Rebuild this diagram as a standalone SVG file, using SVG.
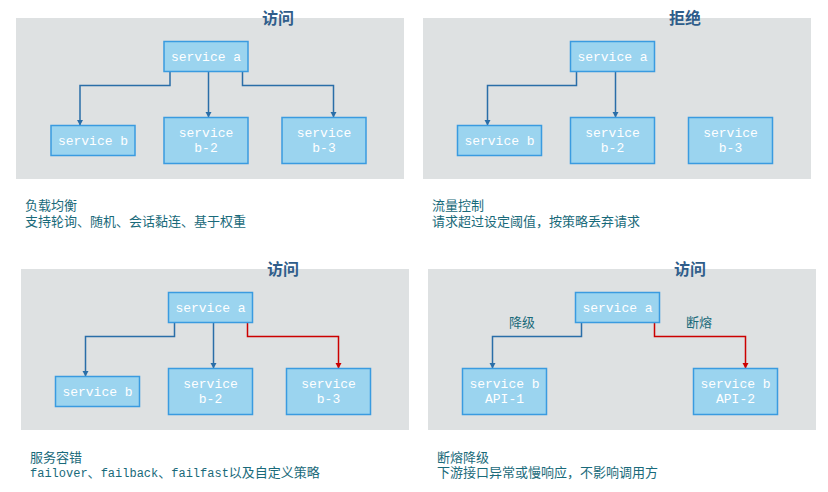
<svg xmlns="http://www.w3.org/2000/svg" width="828" height="492" viewBox="0 0 828 492">
<defs>
<style>
.panel{fill:#dee1e2}
.box{fill:#9bd4ef;stroke:#3a9be0;stroke-width:1.5}
.bt{font-family:"Liberation Mono","DejaVu Sans Mono",monospace;font-size:13px;fill:#ffffff;text-anchor:middle}
.title{font-family:"Noto Sans CJK SC",sans-serif;font-size:16px;font-weight:bold;fill:#2f5d8a;text-anchor:middle}
.desc{font-family:"Liberation Mono","Noto Sans CJK SC",monospace;font-size:13px;fill:#196a7a}
.lbl{font-family:"Noto Sans CJK SC",sans-serif;font-size:13px;fill:#196a7a;text-anchor:middle}
.cb{fill:none;stroke:#2a6ea8;stroke-width:1.5}
.cr{fill:none;stroke:#cc0000;stroke-width:1.5}
.hb{fill:#2a6ea8}
.hr{fill:#cc0000}
</style>
</defs>

<!-- panels -->
<rect class="panel" x="16" y="18" width="388" height="161"/>
<rect class="panel" x="423" y="18" width="388" height="161"/>
<rect class="panel" x="21" y="269" width="388" height="161"/>
<rect class="panel" x="428" y="269" width="388" height="161"/>

<text class="title" x="278" y="24">访问</text>
<text class="title" x="685" y="24">拒绝</text>
<text class="title" x="283" y="275">访问</text>
<text class="title" x="690" y="275">访问</text>

<!-- connectors -->
<g id="connectors">
<polyline class="cb" points="170,72 170,85.5 80,85.5 80,125"/>
<line class="cb" x1="208.5" y1="72" x2="208.5" y2="117"/>
<polyline class="cb" points="242.5,72 242.5,85.5 333.5,85.5 333.5,117"/>

<polyline class="cb" points="576.5,72 576.5,85.5 487.5,85.5 487.5,125"/>
<line class="cb" x1="615.5" y1="72" x2="615.5" y2="117"/>

<polyline class="cb" points="174.5,323 174.5,336.5 85.5,336.5 85.5,376"/>
<line class="cb" x1="213.5" y1="323" x2="213.5" y2="368"/>
<polyline class="cr" points="247.5,323 247.5,336.5 338.5,336.5 338.5,368"/>

<polyline class="cb" points="581.5,323 581.5,336.5 492.5,336.5 492.5,368"/>
<polyline class="cr" points="654.5,323 654.5,336.5 745.5,336.5 745.5,368"/>

<path class="hb" d="M77,120 L83,120 L80,125.5 Z"/>
<path class="hb" d="M205.5,112 L211.5,112 L208.5,117.5 Z"/>
<path class="hb" d="M330.5,112 L336.5,112 L333.5,117.5 Z"/>
<path class="hb" d="M484.5,120 L490.5,120 L487.5,125.5 Z"/>
<path class="hb" d="M612.5,112 L618.5,112 L615.5,117.5 Z"/>
<path class="hb" d="M82.5,371 L88.5,371 L85.5,376.5 Z"/>
<path class="hb" d="M210.5,363 L216.5,363 L213.5,368.5 Z"/>
<path class="hr" d="M335.5,363 L341.5,363 L338.5,368.5 Z"/>
<path class="hb" d="M489.5,363 L495.5,363 L492.5,368.5 Z"/>
<path class="hr" d="M742.5,363 L748.5,363 L745.5,368.5 Z"/>

<text class="lbl" x="522" y="327">降级</text>
<text class="lbl" x="699" y="327">断熔</text>
</g>

<!-- Q1 nodes -->
<g id="q1-a"><rect class="box" x="164" y="41.5" width="84" height="30"/><text class="bt" x="206" y="61">service a</text></g>
<g id="q1-b"><rect class="box" x="51" y="125.5" width="84" height="30"/><text class="bt" x="93" y="145">service b</text></g>
<g id="q1-b2"><rect class="box" x="164" y="117.5" width="84" height="46"/><text class="bt" x="206" y="137">service</text><text class="bt" x="206" y="152">b-2</text></g>
<g id="q1-b3"><rect class="box" x="282" y="117.5" width="84" height="46"/><text class="bt" x="324" y="137">service</text><text class="bt" x="324" y="152">b-3</text></g>

<!-- Q2 nodes -->
<g id="q2-a"><rect class="box" x="570.5" y="41.5" width="84" height="30"/><text class="bt" x="612.5" y="61">service a</text></g>
<g id="q2-b"><rect class="box" x="457.5" y="125.5" width="84" height="30"/><text class="bt" x="499.5" y="145">service b</text></g>
<g id="q2-b2"><rect class="box" x="570.5" y="117.5" width="84" height="46"/><text class="bt" x="612.5" y="137">service</text><text class="bt" x="612.5" y="152">b-2</text></g>
<g id="q2-b3"><rect class="box" x="688.5" y="117.5" width="84" height="46"/><text class="bt" x="730.5" y="137">service</text><text class="bt" x="730.5" y="152">b-3</text></g>

<!-- Q3 nodes -->
<g id="q3-a"><rect class="box" x="168.5" y="292.5" width="84" height="30"/><text class="bt" x="210.5" y="312">service a</text></g>
<g id="q3-b"><rect class="box" x="55.5" y="376.5" width="84" height="30"/><text class="bt" x="97.5" y="396">service b</text></g>
<g id="q3-b2"><rect class="box" x="168.5" y="368.5" width="84" height="46"/><text class="bt" x="210.5" y="388">service</text><text class="bt" x="210.5" y="403">b-2</text></g>
<g id="q3-b3"><rect class="box" x="286.5" y="368.5" width="84" height="46"/><text class="bt" x="328.5" y="388">service</text><text class="bt" x="328.5" y="403">b-3</text></g>

<!-- Q4 nodes -->
<g id="q4-a"><rect class="box" x="575.5" y="292.5" width="84" height="30"/><text class="bt" x="617.5" y="312">service a</text></g>
<g id="q4-api1"><rect class="box" x="462.5" y="368.5" width="84" height="46"/><text class="bt" x="504.5" y="388">service b</text><text class="bt" x="504.5" y="403">API-1</text></g>
<g id="q4-api2"><rect class="box" x="693.5" y="368.5" width="84" height="46"/><text class="bt" x="735.5" y="388">service b</text><text class="bt" x="735.5" y="403">API-2</text></g>

<!-- descriptions -->
<text class="desc" x="25" y="210">负载均衡</text>
<text class="desc" x="25" y="226">支持轮询、随机、会话黏连、基于权重</text>
<text class="desc" x="432" y="210">流量控制</text>
<text class="desc" x="432" y="226">请求超过设定阈值，按策略丢弃请求</text>
<text class="desc" x="30" y="462">服务容错</text>
<text class="desc" x="30" y="477"><tspan font-size="12">failover</tspan>、<tspan font-size="12">failback</tspan>、<tspan font-size="12">failfast</tspan>以及自定义策略</text>
<text class="desc" x="437" y="462">断熔降级</text>
<text class="desc" x="437" y="477">下游接口异常或慢响应，不影响调用方</text>
</svg>
